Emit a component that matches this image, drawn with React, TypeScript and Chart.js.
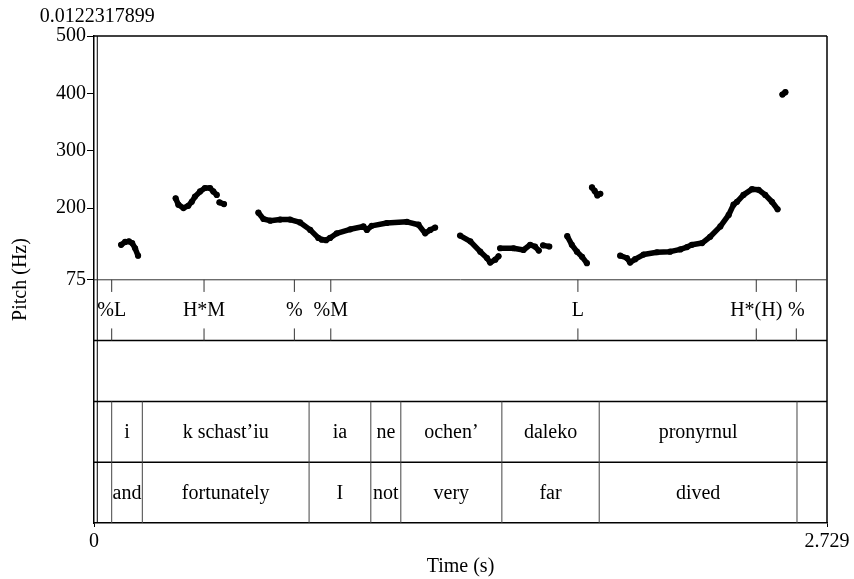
import React, { useEffect, useRef } from "react";
import { Chart, registerables } from "chart.js";

Chart.register(...registerables);

const FONT = '"Liberation Serif", "Times New Roman", Times, serif';

// Axes
const X_MIN = 0;
const X_MAX = 2.729;
const PITCH_MIN = 75;
const PITCH_MAX = 500;
const yTicks = [75, 200, 300, 400, 500];
const xTicks = [0, 2.729];
const markerTime = 0.0122317899;
const markerLabel = "0.0122317899";

// Tone tier (point tier)
const toneTimes = [0.0659, 0.4097, 0.746, 0.8816, 1.8016, 2.4657, 2.6147];
const toneLabels = ["%L", "H*M", "%", "%M", "L", "H*(H)", "%"];

// Word / gloss tiers (interval tiers)
const wordBounds = [0.0122317899, 0.0659, 0.1799, 0.8008, 1.0306, 1.1423, 1.5185, 1.8809, 2.6173, 2.729];
const words = ["", "i", "k schast\u2019iu", "ia", "ne", "ochen\u2019", "daleko", "pronyrnul", ""];
const glosses = ["", "and", "fortunately", "I", "not", "very", "far", "dived", ""];

// Pitch contour segments: [time (s), F0 (Hz)]
const segA: [number, number][] = [[0.101, 136], [0.116, 141], [0.130, 142], [0.142, 139], [0.153, 130], [0.164, 117]];
const segB: [number, number][] = [[0.304, 217], [0.314, 206], [0.333, 200], [0.351, 204], [0.364, 211], [0.376, 220], [0.395, 229], [0.413, 235], [0.432, 235], [0.444, 229], [0.457, 223]];
const segB2: [number, number][] = [[0.467, 210], [0.484, 207]];
const segC: [number, number][] = [[0.612, 192], [0.631, 181], [0.656, 178], [0.693, 180], [0.730, 180], [0.767, 175], [0.805, 162], [0.835, 148], [0.848, 145], [0.864, 144], [0.879, 148], [0.904, 156], [0.954, 163], [1.003, 168], [1.016, 162], [1.034, 169], [1.090, 174], [1.165, 176], [1.208, 171], [1.233, 156], [1.252, 162], [1.270, 166]];
const segD: [number, number][] = [[1.363, 152], [1.401, 142], [1.438, 124], [1.463, 113], [1.475, 105], [1.494, 110], [1.506, 116]];
const segE: [number, number][] = [[1.512, 130], [1.562, 130], [1.599, 127], [1.624, 136], [1.642, 133], [1.656, 126]];
const segF: [number, number][] = [[1.672, 135], [1.695, 133]];
const segG: [number, number][] = [[1.762, 151], [1.779, 136], [1.798, 124], [1.817, 115], [1.835, 104]];
const segH: [number, number][] = [[1.854, 236], [1.864, 230], [1.874, 222], [1.885, 225]];
const segI: [number, number][] = [[1.959, 117], [1.984, 113], [1.996, 105], [2.015, 111], [2.046, 119], [2.096, 123], [2.145, 124], [2.183, 128], [2.208, 132], [2.226, 136], [2.264, 139], [2.294, 150], [2.332, 168], [2.363, 188], [2.381, 206], [2.394, 211], [2.418, 223], [2.450, 233], [2.474, 232], [2.499, 223], [2.524, 211], [2.545, 198]];
const segJ: [number, number][] = [[2.563, 398], [2.574, 402]];

const segments = [segA, segB, segB2, segC, segD, segE, segF, segG, segH, segI, segJ];

// Layout: extra room under the pitch range for four annotation tiers
const TIER_COUNT = 4;
const TIER_BAND_HZ = 424;

const tierPlugin = {
  id: "tiers",
  afterDraw(chart: any) {
    const { ctx, chartArea: a, scales } = chart;
    const x = scales.x;
    const y = scales.y;
    const yTop = y.getPixelForValue(PITCH_MIN);
    const tierH = (a.bottom - yTop) / TIER_COUNT;
    const line = (x1: number, y1: number, x2: number, y2: number, w: number) => {
      ctx.lineWidth = w;
      ctx.beginPath();
      ctx.moveTo(x1, y1);
      ctx.lineTo(x2, y2);
      ctx.stroke();
    };
    ctx.save();
    ctx.strokeStyle = "#000";
    ctx.fillStyle = "#000";
    // frame
    line(a.left, a.top, a.right, a.top, 1.5);
    line(a.right, a.top, a.right, a.bottom, 1.5);
    const mx = x.getPixelForValue(markerTime);
    line(mx, a.top, mx, a.bottom, 1);
    // pitch / tier separator
    ctx.strokeStyle = "#333";
    line(a.left, yTop, a.right, yTop, 1);
    ctx.strokeStyle = "#000";
    for (let i = 1; i < TIER_COUNT; i++) {
      line(a.left, yTop + i * tierH, a.right, yTop + i * tierH, 1.5);
    }
    ctx.font = "20px " + FONT;
    ctx.textAlign = "center";
    ctx.textBaseline = "middle";
    // tone tier
    toneTimes.forEach((t, i) => {
      const px = x.getPixelForValue(t);
      ctx.strokeStyle = "#333";
      line(px, yTop, px, yTop + tierH * 0.2, 1);
      line(px, yTop + tierH * 0.8, px, yTop + tierH, 1);
      ctx.fillText(toneLabels[i], px, yTop + tierH / 2 + 1);
    });
    // word and gloss tiers
    const t3 = yTop + 2 * tierH;
    ctx.strokeStyle = "#444";
    wordBounds.forEach((t) => {
      if (t <= markerTime || t >= X_MAX) return;
      const px = x.getPixelForValue(t);
      line(px, t3, px, a.bottom, 1);
    });
    for (let i = 0; i < words.length; i++) {
      const cx = (x.getPixelForValue(wordBounds[i]) + x.getPixelForValue(wordBounds[i + 1])) / 2;
      if (words[i]) ctx.fillText(words[i], cx, t3 + tierH / 2 + 1);
      if (glosses[i]) ctx.fillText(glosses[i], cx, t3 + tierH * 1.5 + 1);
    }
    // marker time label
    ctx.fillText(markerLabel, mx, a.top - 19);
    ctx.restore();
  },
};

export default function App() {
  const ref = useRef<HTMLCanvasElement | null>(null);
  useEffect(() => {
    if (!ref.current) return;
    Chart.defaults.font.family = FONT;
    Chart.defaults.color = "#000";
    const datasets = segments.map((seg) => ({
      data: seg.map(([t, f]) => ({ x: t, y: f })),
      showLine: true,
      borderColor: "#000",
      backgroundColor: "#000",
      borderWidth: 5.5,
      borderCapStyle: "round" as const,
      borderJoinStyle: "round" as const,
      pointRadius: 3.1,
      pointBorderWidth: 0,
      tension: 0,
    }));
    const chart = new Chart(ref.current, {
      type: "scatter",
      data: { datasets },
      options: {
        animation: false,
        responsive: false,
        events: [],
        layout: { padding: { top: 36, right: 27, left: 0, bottom: 0 } },
        plugins: { legend: { display: false }, tooltip: { enabled: false } },
        scales: {
          x: {
            type: "linear",
            min: X_MIN,
            max: X_MAX,
            afterBuildTicks: (s: any) => {
              s.ticks = xTicks.map((v) => ({ value: v }));
            },
            afterFit: (s: any) => {
              s.height = 56;
            },
            ticks: {
              autoSkip: false,
              maxRotation: 0,
              padding: 3,
              font: { size: 20, family: FONT },
              color: "#000",
              callback: (v: any) => String(v),
            },
            grid: { drawOnChartArea: false, tickLength: 4, color: "#000" },
            border: { display: true, color: "#000", width: 1.5 },
            title: {
              display: true,
              text: "Time (s)",
              font: { size: 20, family: FONT },
              color: "#000",
              padding: { top: 0, bottom: 0 },
            },
          },
          y: {
            type: "linear",
            min: PITCH_MIN - TIER_BAND_HZ,
            max: PITCH_MAX,
            afterBuildTicks: (s: any) => {
              s.ticks = yTicks.map((v) => ({ value: v }));
            },
            afterFit: (s: any) => {
              s.width = 94;
            },
            ticks: {
              autoSkip: false,
              padding: 1,
              font: { size: 20, family: FONT },
              color: "#000",
              callback: (v: any) => String(v),
            },
            grid: { drawOnChartArea: false, tickLength: 7, color: "#000" },
            border: { display: true, color: "#000", width: 1.5 },
            title: {
              display: true,
              text: "Pitch (Hz)",
              font: { size: 20, family: FONT },
              color: "#000",
              padding: { top: 9, bottom: 0 },
            },
          },
        },
      },
      plugins: [tierPlugin],
    });
    return () => chart.destroy();
  }, []);
  return (
    <div style={{ position: "absolute", left: 0, top: 0, width: 854, height: 579, background: "#fff" }}>
      <canvas ref={ref} width={854} height={579} style={{ display: "block" }} />
    </div>
  );
}
